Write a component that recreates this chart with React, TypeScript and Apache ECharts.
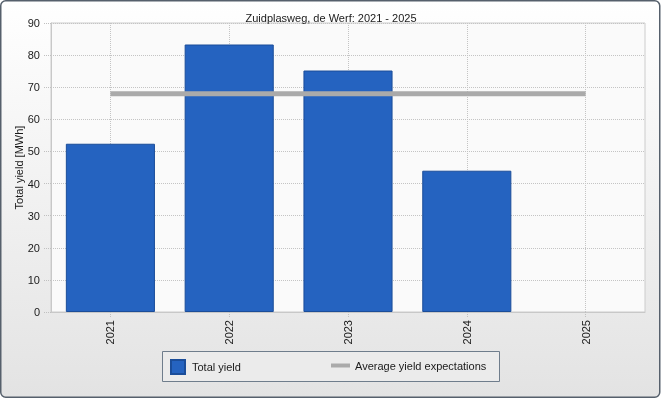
import React, { useEffect, useRef } from "react";
import * as echarts from "echarts";

const categories = ["2021", "2022", "2023", "2024", "2025"];
const totalYield: (number | null)[] = [52.4, 83.3, 75.2, 44.0, null];
const averageExpectation = [68, 68, 68, 68, 68];
const yTicks = { min: 0, max: 90, interval: 10 };
const title = "Zuidplasweg, de Werf: 2021 - 2025";
const yName = "Total yield [MWh]";
const seriesNames = ["Total yield", "Average yield expectations"];

const FONT = "Liberation Sans";

export default function App() {
  const ref = useRef<HTMLDivElement>(null);
  useEffect(() => {
    if (!ref.current) return;
    const chart = echarts.init(ref.current, undefined, { renderer: "svg" });
    chart.setOption({
      animation: false,
      textStyle: { fontFamily: FONT },
      title: {
        text: title,
        left: "center",
        top: 7,
        textStyle: { fontSize: 11, fontWeight: "normal", color: "#1a1a1a", fontFamily: FONT },
      },
      graphic: [
        {
          type: "rect",
          z: -100,
          shape: { x: 0.75, y: 0.75, width: 659, height: 396.5, r: 5 },
          style: {
            stroke: "#56606c",
            lineWidth: 1.5,
            fill: new echarts.graphic.LinearGradient(0, 0, 0, 1, [
              { offset: 0, color: "#ffffff" },
              { offset: 1, color: "#e3e3e3" },
            ]),
          },
        },
        {
          type: "rect",
          z: -50,
          shape: { x: 162.5, y: 351.5, width: 337, height: 30 },
          style: { stroke: "#6f7d8c", lineWidth: 1, fill: "#ebebeb" },
        },
      ],
      grid: {
        left: 51,
        right: 17,
        top: 23,
        bottom: 88,
        show: true,
        backgroundColor: "#fafafa",
        borderColor: "#cccccc",
        borderWidth: 1,
      },
      legend: [
        {
          data: [{ name: seriesNames[0], icon: "rect" }],
          left: 170,
          top: 359,
          itemWidth: 14,
          itemHeight: 14,
          textStyle: { fontSize: 11, color: "#1a1a1a", fontFamily: FONT, padding: [0, 0, 0, 2] },
          padding: 0,
        },
        {
          data: [
            {
              name: seriesNames[1],
              icon: "rect",
              itemStyle: { color: "#aaaaaa", borderWidth: 0 },
            },
          ],
          left: 331,
          top: 360,
          itemWidth: 19,
          itemHeight: 4,
          itemGap: 4,
          textStyle: { fontSize: 11, color: "#1a1a1a", fontFamily: FONT },
          padding: 0,
        },
      ],
      xAxis: {
        type: "category",
        data: categories,
        axisLine: { show: true, lineStyle: { color: "#c8c8c8" } },
        axisTick: {
          show: true,
          alignWithLabel: true,
          length: 6,
          lineStyle: { color: "#c0c0c0", type: "dotted" },
        },
        axisLabel: { rotate: 90, fontSize: 11, color: "#1a1a1a", margin: 8, fontFamily: FONT },
        splitLine: {
          show: true,
          alignWithLabel: true,
          lineStyle: { color: "#c4c4c4", type: "dotted" },
        },
      },
      yAxis: {
        type: "value",
        min: yTicks.min,
        max: yTicks.max,
        interval: yTicks.interval,
        name: yName,
        nameLocation: "middle",
        nameGap: 27,
        nameMoveOverlap: false,
        nameTextStyle: { fontSize: 11, color: "#1a1a1a", fontFamily: FONT },
        axisLine: { show: true, lineStyle: { color: "#c8c8c8" } },
        axisTick: { show: true, length: 7, lineStyle: { color: "#c0c0c0", type: "dotted" } },
        axisLabel: { fontSize: 11, color: "#1a1a1a", margin: 11, fontFamily: FONT },
        splitLine: { show: true, lineStyle: { color: "#c4c4c4", type: "dotted" } },
      },
      series: [
        {
          name: seriesNames[0],
          type: "bar",
          data: totalYield,
          barCategoryGap: "25%",
          itemStyle: { color: "#2563c0", borderColor: "#1b4d99", borderWidth: 1 },
        },
        {
          name: seriesNames[1],
          type: "line",
          data: averageExpectation,
          symbol: "none",
          itemStyle: { color: "#aaaaaa" },
          lineStyle: { color: "#aaaaaa", width: 5 },
          z: 3,
        },
      ],
    });
    return () => chart.dispose();
  }, []);
  return (
    <div
      ref={ref}
      style={{ position: "fixed", left: 0, top: 0, width: 662, height: 400 }}
    />
  );
}
